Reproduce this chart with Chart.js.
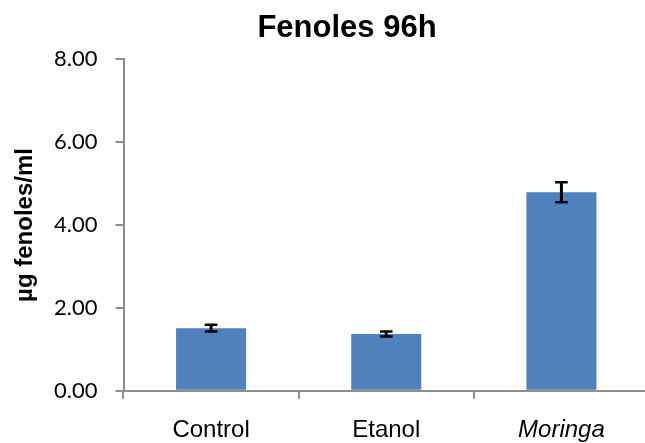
<!DOCTYPE html>
<html>
<head>
<meta charset="utf-8">
<script src="https://cdn.jsdelivr.net/npm/chart.js@4"></script>
<style>
  html, body { margin: 0; padding: 0; background: #fff; overflow: hidden; }
  #wrap { position: relative; width: 649px; height: 443px; }
</style>
</head>
<body>
<div id="wrap"><canvas id="c"></canvas></div>
<script>
const categories = ['Control', 'Etanol', 'Moringa'];
const means = [1.51, 1.37, 4.79];
const errors = [0.08, 0.06, 0.24];
const italicCategories = ['Moringa'];
const yMin = 0, yMax = 8, yStep = 2;

const errorBars = {
  id: 'errorBars',
  afterDatasetsDraw(chart) {
    const ctx = chart.ctx;
    const ys = chart.scales.y;
    const meta = chart.getDatasetMeta(0);
    ctx.save();
    ctx.strokeStyle = '#000';
    meta.data.forEach((bar, i) => {
      const x = bar.x;
      const top = ys.getPixelForValue(means[i] + errors[i]);
      const bot = ys.getPixelForValue(means[i] - errors[i]);
      ctx.lineWidth = 3;
      ctx.beginPath(); ctx.moveTo(x, top); ctx.lineTo(x, bot); ctx.stroke();
      ctx.lineWidth = 2.5;
      ctx.beginPath();
      ctx.moveTo(x - 6.3, top); ctx.lineTo(x + 6.3, top);
      ctx.moveTo(x - 6.3, bot); ctx.lineTo(x + 6.3, bot);
      ctx.stroke();
    });
    ctx.restore();
  }
};

new Chart(document.getElementById('c'), {
  type: 'bar',
  data: {
    labels: categories,
    datasets: [{
      data: means,
      backgroundColor: '#4F81BD',
      borderWidth: 0,
      barPercentage: 0.4,
      categoryPercentage: 1.0
    }]
  },
  options: {
    responsive: true,
    maintainAspectRatio: false,
    animation: false,
    layout: { padding: { left: 45, right: 0, top: 0, bottom: 0 } },
    plugins: {
      legend: { display: false },
      tooltip: { enabled: false },
      title: {
        display: true,
        text: 'Fenoles 96h',
        color: '#000',
        font: { family: '"Liberation Sans", Arial, sans-serif', size: 31, weight: 'bold', lineHeight: 1.2 },
        padding: { top: 10, bottom: 12 }
      }
    },
    scales: {
      x: {
        grid: { display: true, drawOnChartArea: false, tickLength: 8, color: '#8e8e8e', lineWidth: 2, offset: true },
        border: { display: true, color: '#8e8e8e', width: 2 },
        ticks: {
          color: '#000',
          padding: 17,
          maxRotation: 0,
          font: (ctx) => ({
            family: '"Liberation Sans", Arial, sans-serif',
            size: 24,
            style: italicCategories.includes(categories[ctx.index]) ? 'italic' : 'normal',
            lineHeight: 1.2
          })
        },
        afterFit: (s) => { s.height = 52.3; }
      },
      y: {
        min: yMin,
        max: yMax,
        grid: { display: true, drawOnChartArea: false, tickLength: 8, color: '#8e8e8e', lineWidth: 2 },
        border: { display: true, color: '#8e8e8e', width: 2 },
        ticks: {
          stepSize: yStep,
          color: '#000',
          padding: 18,
          font: { family: 'Lato, "Open Sans", sans-serif', size: 22 },
          callback: (v) => Number(v).toFixed(2)
        },
        title: {
          display: true,
          text: 'µg fenoles/ml',
          color: '#000',
          font: { family: '"Liberation Sans", Arial, sans-serif', size: 24, weight: 'bold', lineHeight: 1.2 },
          padding: { top: -34, bottom: 0 }
        },
        afterFit: (s) => { s.width = 78.5; }
      }
    }
  },
  plugins: [errorBars]
});
</script>
</body>
</html>
